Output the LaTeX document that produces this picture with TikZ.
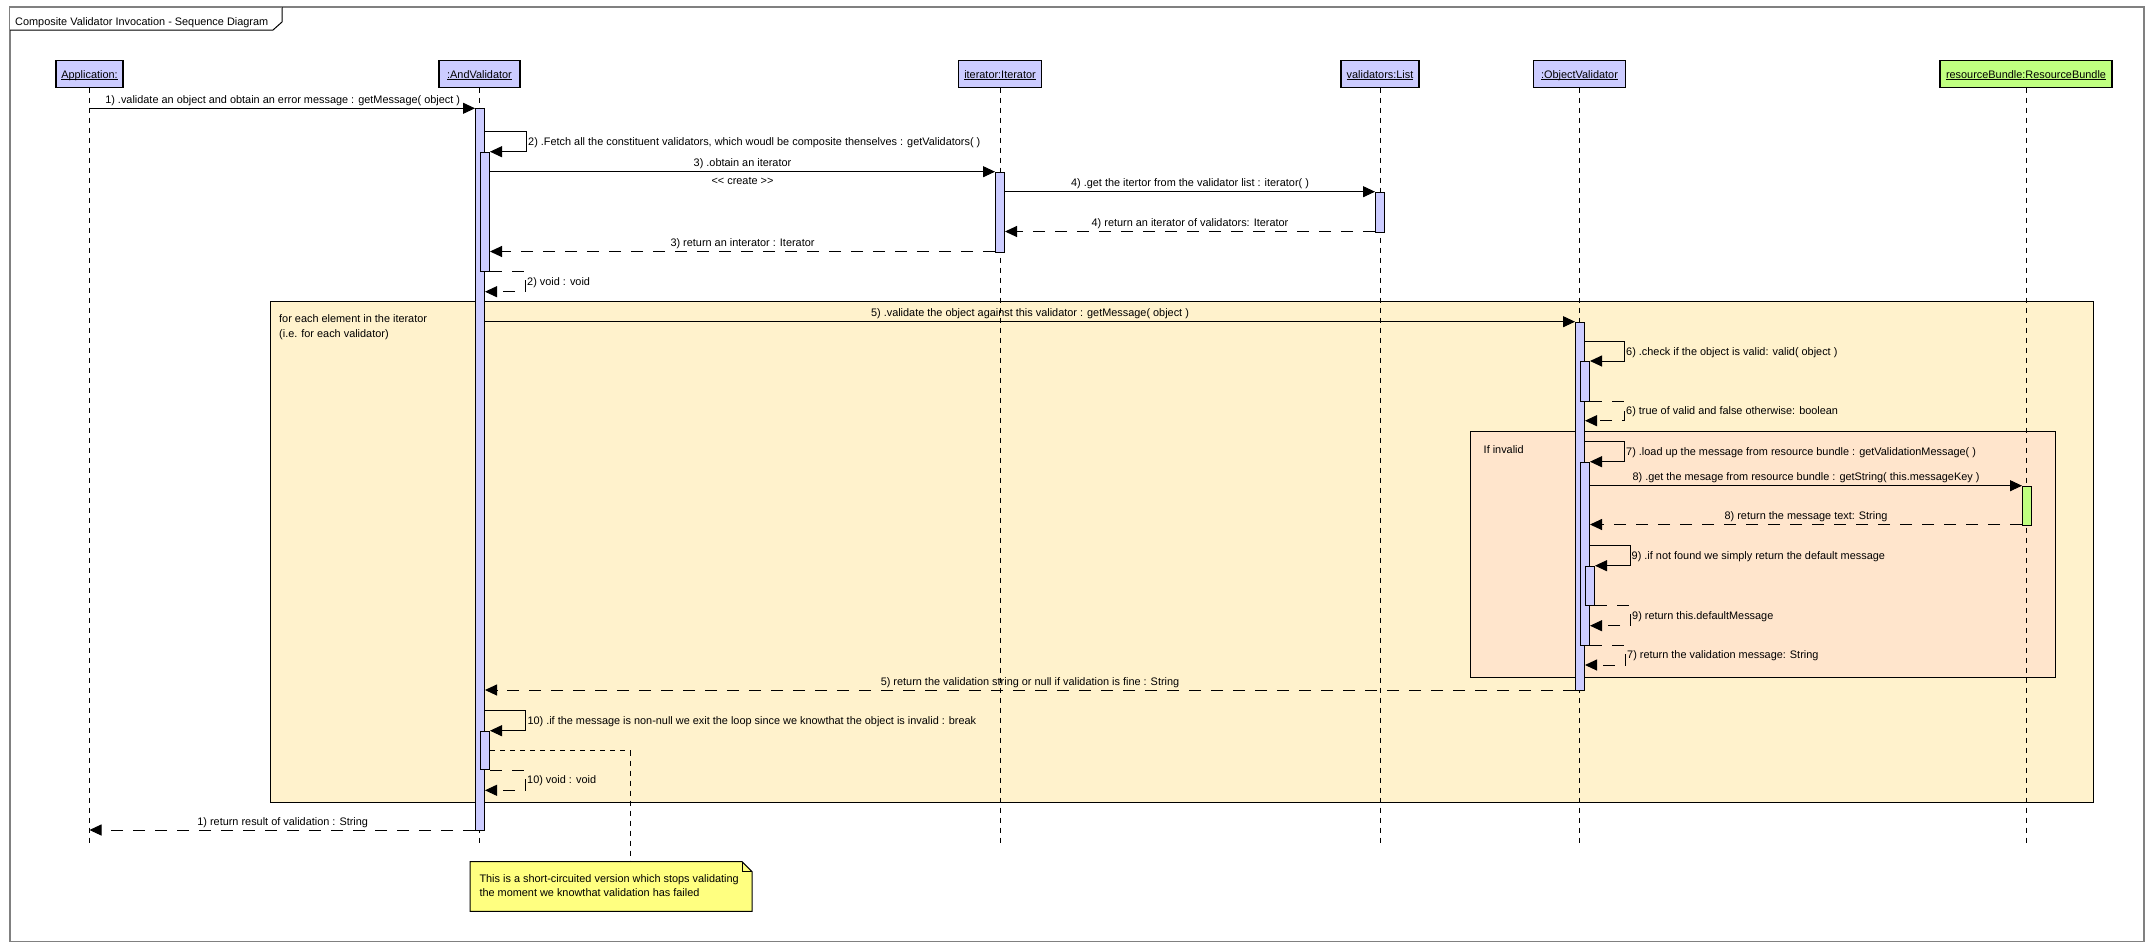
\documentclass[tikz,border=0pt]{standalone}
\usepackage{fontspec}
\setmainfont{Liberation Sans}
\usetikzlibrary{arrows.meta}

\definecolor{lifefill}{RGB}{204,204,255}
\definecolor{rbfill}{RGB}{192,255,128}
\definecolor{loopfill}{RGB}{255,242,204}
\definecolor{altfill}{RGB}{255,229,204}
\definecolor{notefill}{RGB}{255,255,128}
\definecolor{framegray}{RGB}{128,128,128}

% underlined object name for lifeline heads
\newcommand\ulbl[1]{\setbox0\hbox{#1}\rlap{\rule[-2pt]{\wd0}{1pt}}\box0}

\begin{document}
\begin{tikzpicture}[x=1pt,y=-1pt,
  every node/.style={font=\fontsize{10.9}{13}\selectfont, inner sep=0pt},
  lbox/.style={draw, line width=1.1pt, fill=lifefill, minimum height=26.3pt, text height=8pt, text depth=0pt},
  bar/.style={draw, line width=1pt, fill=lifefill, minimum width=9pt, anchor=north},
  life/.style={line width=1pt, dash pattern=on 5pt off 5pt},
  msg/.style={line width=1pt, -{Triangle[length=12pt,width=11pt]}},
  ret/.style={msg, dash pattern=on 12pt off 10pt},
  lbl/.style={anchor=base},
  slbl/.style={anchor=base west},
  fragment/.style={draw, line width=1pt, anchor=north west},
]
\useasboundingbox (0,0) rectangle (2154,951);

% outer diagram frame and its name tab
\draw[framegray, line width=1.3pt] (10,7) rectangle (2144,941.5);
\fill[white] (10,7) -- (282,7) -- (282,22) -- (273,30) -- (10,30) -- cycle;
\draw[line width=1pt] (282,7) -- (282,22) -- (273,30) -- (10,30);
\draw[framegray, line width=1.3pt] (10,7) -- (282,7);
\node[anchor=base west] (title) at (15,25) {Composite Validator Invocation - Sequence Diagram};

% combined fragments
\node[fragment, fill=loopfill, minimum width=1823pt, minimum height=500.5pt] (loop) at (270,301) {};
\node[anchor=base west] (loopA) at (279,322) {for each element in the iterator};
\node[anchor=base west] (loopB) at (279,337) {(i.e. for each validator)};
\node[fragment, fill=altfill, minimum width=585pt, minimum height=246pt] (alt) at (1470,431) {};
\node[anchor=base west] (altlbl) at (1483.5,453) {If invalid};

% lifeline heads
\node[lbox, minimum width=67pt] (app) at (89.5,74) {\ulbl{Application:}};
\node[lbox, minimum width=81pt] (andv) at (479.5,74) {\ulbl{:AndValidator}};
\node[lbox, minimum width=83pt] (iter) at (1000,74) {\ulbl{iterator:Iterator}};
\node[lbox, minimum width=78pt] (list) at (1380,74) {\ulbl{validators:List}};
\node[lbox, minimum width=92pt] (objv) at (1579.5,74) {\ulbl{:ObjectValidator}};
\node[lbox, fill=rbfill, minimum width=172pt] (rb) at (2026,74) {\ulbl{resourceBundle:ResourceBundle}};

% lifelines
\coordinate (endy) at (0,845);
\foreach \n in {app,andv,iter,list,objv,rb}
  \draw[life] (\n.south) -- (\n.south |- endy);

% activation bars
\node[bar, minimum height=721.2pt] (andA) at (480,108.3) {};
\node[bar, minimum height=119pt] (andB) at (485,151.7) {};
\node[bar, minimum height=38.6pt] (andC) at (485,730.7) {};
\node[bar, minimum height=79.8pt] (iterA) at (1000,171.7) {};
\node[bar, minimum height=39.8pt] (listA) at (1380,191.7) {};
\node[bar, minimum height=368.3pt] (objA) at (1580,321.7) {};
\node[bar, minimum height=39.7pt] (objB) at (1585,361) {};
\node[bar, minimum height=182.8pt] (objC) at (1585,461.7) {};
\node[bar, minimum height=39pt] (objD) at (1590,565.7) {};
\node[bar, fill=rbfill, minimum height=38.8pt] (rbA) at (2027,485.7) {};

% message levels
\coordinate (m1) at (0,108.3);
\coordinate (m2a) at (0,131);
\coordinate (m2b) at (0,151.7);
\coordinate (m3) at (0,171.7);
\coordinate (m4) at (0,191.7);
\coordinate (m4r) at (0,231.5);
\coordinate (m3r) at (0,251.5);
\coordinate (m2r) at (0,291.7);
\coordinate (m5) at (0,321.7);
\coordinate (m6a) at (0,341.7);
\coordinate (m6b) at (0,361);
\coordinate (m6r) at (0,420.7);
\coordinate (m7a) at (0,441.7);
\coordinate (m7b) at (0,461.7);
\coordinate (m8) at (0,485.7);
\coordinate (m8r) at (0,524.5);
\coordinate (m9a) at (0,545);
\coordinate (m9b) at (0,565.7);
\coordinate (m9r) at (0,625.7);
\coordinate (m7r) at (0,665);
\coordinate (m5r) at (0,690);
\coordinate (m10a) at (0,710.7);
\coordinate (m10b) at (0,730.7);
\coordinate (m10r) at (0,790.3);
\coordinate (m1r) at (0,830);

% messages
\draw[msg] (app |- m1) -- (andA.west |- m1);
\draw[msg] (andA.east |- m2a) -- ++(41.2,0) |- (andB.east |- m2b);
\draw[msg] (andB.east |- m3) -- (iterA.west |- m3);
\draw[msg] (iterA.east |- m4) -- (listA.west |- m4);
\draw[ret] (listA.west |- m4r) -- (iterA.east |- m4r);
\draw[ret] (iterA.west |- m3r) -- (andB.east |- m3r);
\draw[ret] (andB.south east) -- ++(35.5,0) |- (andA.east |- m2r);
\draw[msg] (andA.east |- m5) -- (objA.west |- m5);
\draw[msg] (objA.east |- m6a) -- ++(39.5,0) |- (objB.east |- m6b);
\draw[ret] (objB.south east) -- ++(34.5,0) |- (objA.east |- m6r);
\draw[msg] (objA.east |- m7a) -- ++(39.5,0) |- (objC.east |- m7b);
\draw[msg] (objC.east |- m8) -- (rbA.west |- m8);
\draw[ret] (rbA.west |- m8r) -- (objC.east |- m8r);
\draw[msg] (objC.east |- m9a) -- ++(40,0) |- (objD.east |- m9b);
\draw[ret] (objD.south east) -- ++(35.5,0) |- (objC.east |- m9r);
\draw[ret] (objC.south east) -- ++(35.5,0) |- (objA.east |- m7r);
\draw[ret] (objA.west |- m5r) -- (andA.east |- m5r);
\draw[msg] (andA.east |- m10a) -- ++(40.8,0) |- (andC.east |- m10b);
\draw[ret] (andC.south east) -- ++(35.5,0) |- (andA.east |- m10r);
\draw[ret] (andA.west |- m1r) -- (app |- m1r);

% message labels
\node[lbl] (t1) at (282.7,103.3) {1) .validate an object and obtain an error message : getMessage( object )};
\node[slbl] (t2) at (528,145.3) {2) .Fetch all the constituent validators, which woudl be composite thenselves : getValidators( )};
\node[lbl] (t3) at (742.5,166.7) {3) .obtain an iterator};
\node[lbl] (t3c) at (742.5,184.5) {<{}< create >{}>};
\node[lbl] (t4) at (1190,186.7) {4) .get the itertor from the validator list : iterator( )};
\node[lbl] (t4r) at (1190,226.5) {4) return an iterator of validators: Iterator};
\node[lbl] (t3r) at (742.5,246.5) {3) return an interator : Iterator};
\node[slbl] (t2r) at (527,285.2) {2) void : void};
\node[lbl] (t5) at (1030,316.7) {5) .validate the object against this validator : getMessage( object )};
\node[slbl] (t6) at (1626,355.4) {6) .check if the object is valid: valid( object )};
\node[slbl] (t6r) at (1626,414.7) {6) true of valid and false otherwise: boolean};
\node[slbl] (t7) at (1626,455.7) {7) .load up the message from resource bundle : getValidationMessage( )};
\node[lbl] (t8) at (1806,480.7) {8) .get the mesage from resource bundle : getString( this.messageKey )};
\node[lbl] (t8r) at (1806,519.5) {8) return the message text: String};
\node[slbl] (t9) at (1631.5,559.4) {9) .if not found we simply return the default message};
\node[slbl] (t9r) at (1632,619.2) {9) return this.defaultMessage};
\node[slbl] (t7r) at (1627,658.8) {7) return the validation message: String};
\node[lbl] (t5r) at (1030,685) {5) return the validation string or null if validation is fine : String};
\node[slbl] (t10) at (527.3,724.7) {10) .if the message is non-null we exit the loop since we knowthat the object is invalid : break};
\node[slbl] (t10r) at (527,783.8) {10) void : void};
\node[lbl] (t1r) at (282.7,825) {1) return result of validation : String};

% note with its anchor line
\node[minimum width=281.7pt, minimum height=49.3pt, anchor=north west] (note) at (470,861.7) {};
\draw[line width=1pt, fill=notefill] (note.north west) -- ([xshift=-10pt]note.north east)
  -- ([yshift=-10pt]note.north east) -- (note.south east) -- (note.south west) -- cycle;
\draw[line width=0.8pt] ([xshift=-10pt]note.north east) |- ([yshift=-10pt]note.north east);
\node[anchor=base west] (noteA) at (479.3,882) {This is a short-circuited version which stops validating};
\node[anchor=base west] (noteB) at (479.3,896) {the moment we knowthat validation has failed};
\coordinate (nc) at (630.2,750.7);
\draw[life] (andC.east |- nc) -- (nc) -- (nc |- note.north);
\end{tikzpicture}
\end{document}
